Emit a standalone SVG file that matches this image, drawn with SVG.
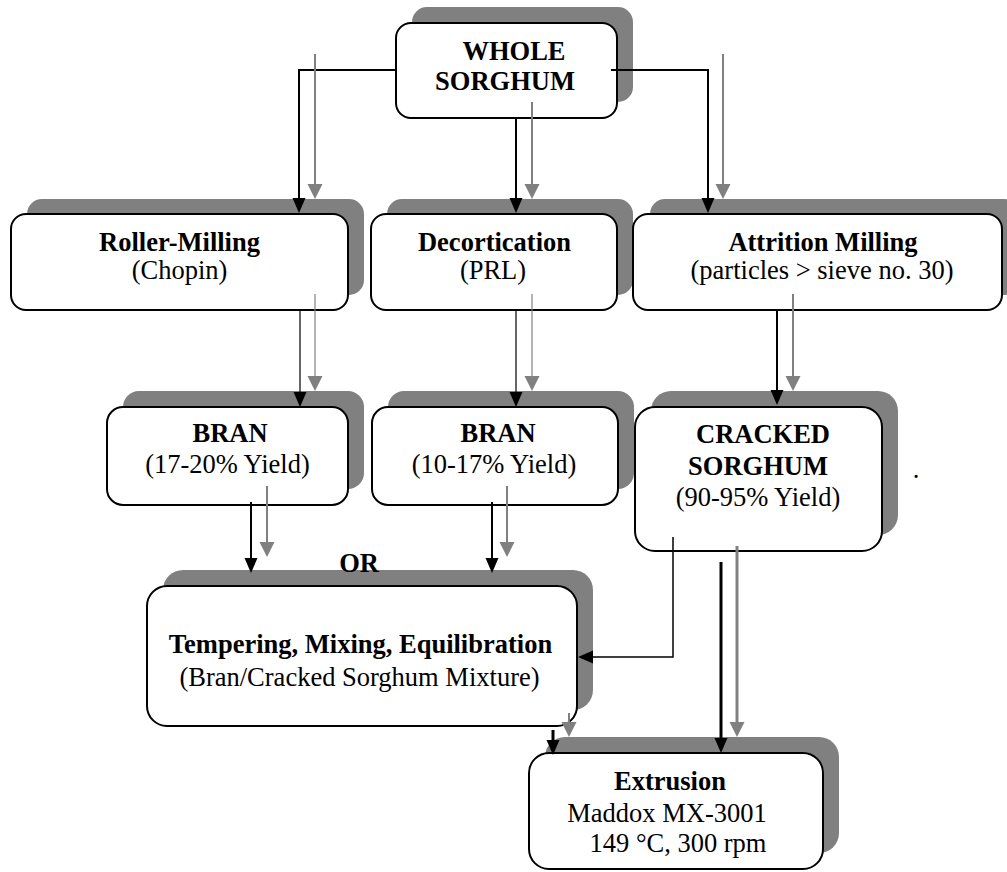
<svg xmlns="http://www.w3.org/2000/svg" width="1007" height="872" viewBox="0 0 1007 872">
<style>
.sh{fill:#808080}
.bx{fill:#fff;stroke:#000;stroke-width:2}
text{font-family:"Liberation Serif","Times New Roman",serif;font-size:26.5px;fill:#000;text-anchor:middle}
.b{font-weight:bold}
.k{fill:none;stroke:#000}
.g{fill:none;stroke:#808080}
</style>
<defs>
<marker id="ak" markerUnits="userSpaceOnUse" markerWidth="15" markerHeight="13" refX="7" refY="6.5" orient="auto" overflow="visible">
<path d="M0,0 L15,6.5 L0,13 z" fill="#000"/>
</marker>
<marker id="ag" markerUnits="userSpaceOnUse" markerWidth="15" markerHeight="15" refX="7" refY="7.5" orient="auto" overflow="visible">
<path d="M0,0 L15,7.5 L0,15 z" fill="#808080"/>
</marker>
</defs>
<rect width="1007" height="872" fill="#fff"/>

<g id="whole">
<rect class="sh" x="412" y="7" width="221" height="95" rx="15"/>
<rect class="bx" x="396" y="23" width="221" height="95" rx="15"/>
<text class="b" x="514" y="60">WHOLE</text>
<text class="b" x="505" y="90">SORGHUM</text>
</g>

<g id="roller">
<rect class="sh" x="27" y="199" width="337" height="96" rx="15"/>
<rect class="bx" x="11" y="214" width="337" height="96" rx="15"/>
<text class="b" x="179.5" y="251">Roller-Milling</text>
<text x="179.5" y="279">(Chopin)</text>
</g>

<g id="decort">
<rect class="sh" x="387" y="199" width="246" height="96" rx="15"/>
<rect class="bx" x="371" y="214" width="246" height="96" rx="15"/>
<text class="b" x="494.5" y="251">Decortication</text>
<text x="493" y="279">(PRL)</text>
</g>

<g id="attrition">
<rect class="sh" x="650" y="199" width="369" height="96" rx="15"/>
<rect class="bx" x="633" y="214" width="369" height="96" rx="15"/>
<text class="b" x="823" y="251">Attrition Milling</text>
<text x="822" y="279">(particles &gt; sieve no. 30)</text>
</g>

<g id="bran1">
<rect class="sh" x="123" y="391" width="241" height="98" rx="16"/>
<rect class="bx" x="107" y="407" width="241" height="98" rx="16"/>
<text class="b" x="230" y="442">BRAN</text>
<text x="227.5" y="473">(17-20% Yield)</text>
</g>

<g id="bran2">
<rect class="sh" x="388" y="391" width="246" height="98" rx="16"/>
<rect class="bx" x="372" y="407" width="246" height="98" rx="16"/>
<text class="b" x="498" y="442">BRAN</text>
<text x="494" y="473">(10-17% Yield)</text>
</g>

<g id="cracked">
<rect class="sh" x="651" y="391" width="247" height="144" rx="20"/>
<rect class="bx" x="635" y="407" width="247" height="144" rx="20"/>
<text class="b" x="763" y="443">CRACKED</text>
<text class="b" x="758" y="475">SORGHUM</text>
<text x="758" y="506">(90-95% Yield)</text>
</g>

<g id="tempering">
<rect class="sh" x="163" y="570" width="430" height="140" rx="20"/>
<rect class="bx" x="147" y="586" width="430" height="140" rx="20"/>
<text class="b" x="360.5" y="653">Tempering, Mixing, Equilibration</text>
<text x="359.5" y="686">(Bran/Cracked Sorghum Mixture)</text>
</g>

<g id="extrusion">
<rect class="sh" x="545" y="737" width="294" height="116" rx="20"/>
<rect class="bx" x="529" y="753" width="294" height="116" rx="20"/>
<text class="b" x="670" y="790">Extrusion</text>
<text x="667" y="822">Maddox MX-3001</text>
<text x="678" y="852">149 °C, 300 rpm</text>
</g>

<g id="labels">
<text class="b" x="359" y="572">OR</text>
<text x="916" y="478">.</text>
</g>

<g id="connectors">
<path class="k" stroke-width="2" d="M396,70 H299 V205" marker-end="url(#ak)"/>
<path class="g" stroke-width="2" d="M315,54 V191" marker-end="url(#ag)"/>
<path class="k" stroke-width="2" d="M516,118 V205" marker-end="url(#ak)"/>
<path class="g" stroke-width="2" d="M532,102 V191" marker-end="url(#ag)"/>
<path class="k" stroke-width="2" d="M611,70 H708 V205" marker-end="url(#ak)"/>
<path class="g" stroke-width="2" d="M723,54 V191" marker-end="url(#ag)"/>

<path class="k" stroke-width="1.2" d="M300,310 V399" marker-end="url(#ak)"/>
<path class="g" stroke-width="1.2" d="M315,294 V383" marker-end="url(#ag)"/>
<path class="k" stroke-width="1.2" d="M516,310 V399" marker-end="url(#ak)"/>
<path class="g" stroke-width="1.2" d="M532,294 V383" marker-end="url(#ag)"/>
<path class="k" stroke-width="2" d="M777,310 V397" marker-end="url(#ak)"/>
<path class="g" stroke-width="2" d="M793,294 V383" marker-end="url(#ag)"/>

<path class="k" stroke-width="2" d="M251,502 V565" marker-end="url(#ak)"/>
<path class="g" stroke-width="2" d="M267,486 V549" marker-end="url(#ag)"/>
<path class="k" stroke-width="2" d="M492,502 V565" marker-end="url(#ak)"/>
<path class="g" stroke-width="2" d="M507,486 V549" marker-end="url(#ag)"/>

<path class="k" stroke-width="1.5" d="M673,537 V657 H586" marker-end="url(#ak)"/>
<path class="k" stroke-width="3" d="M721,562 V745" marker-end="url(#ak)"/>
<path class="g" stroke-width="3" d="M737,546 V729" marker-end="url(#ag)"/>
<path class="k" stroke-width="3" d="M553,730 V747" marker-end="url(#ak)"/>
<path class="g" stroke-width="2" d="M569,713 V729" marker-end="url(#ag)"/>
</g>
</svg>
